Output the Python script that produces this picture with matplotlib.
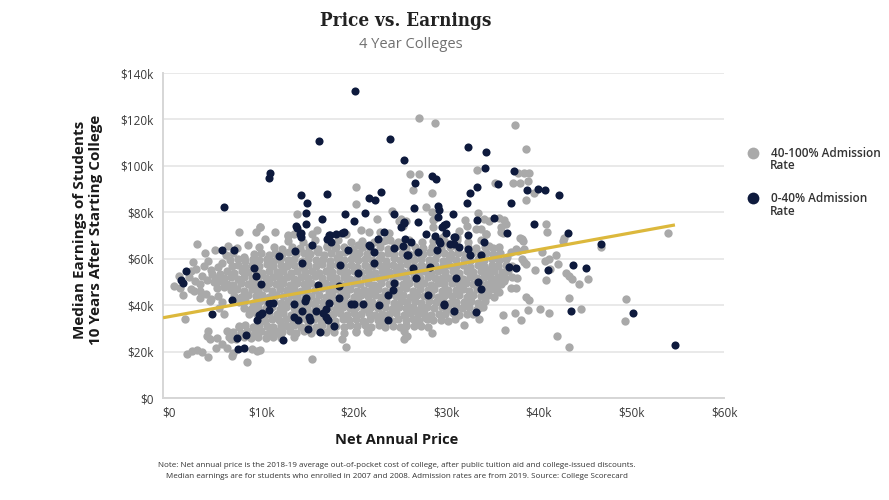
import matplotlib
matplotlib.use("Agg")
import matplotlib.pyplot as plt
from matplotlib.lines import Line2D
import numpy as np

# values in $k
# dense middle of the 40-100% admission cloud
gray_core = [
    (6.5,26.1),(7.3,25.6),(8.1,26.4),(8.9,25.8),(9.7,26.2),(10.5,25.7),(11.3,26.3),(12.2,25.9),(13.5,26.4),
    (7.0,28.6),(7.8,28.1),(8.5,28.9),(9.3,28.3),(10.0,28.7),(10.8,28.0),(11.6,28.9),(12.3,28.4),(13.1,28.8),
    (13.8,28.1),(14.6,28.7),(15.4,28.2),(16.2,28.9),(17.0,28.3),(17.9,28.6),(19.0,28.2),(20.3,28.8),(21.5,28.4),
    (7.6,31.0),(8.3,31.5),(9.1,30.8),(9.8,31.4),(10.6,31.2),(11.3,30.6),(12.1,31.5),(12.8,30.9),(13.6,31.3),
    (14.3,30.5),(15.1,31.4),(15.9,30.8),(16.6,31.6),(17.4,30.7),(18.1,31.2),(18.9,30.4),(19.6,31.5),(20.4,30.9),
    (21.2,31.3),(21.9,30.6),(22.7,31.4),(23.4,30.8),(24.2,31.1),(25.0,30.5),(25.7,31.6),(26.5,30.9),(27.3,31.2),
    (28.0,30.7),
    (9.7,33.8),(10.4,33.2),(11.2,34.1),(11.9,33.5),(12.7,33.9),(13.4,33.1),(14.2,34.0),(15.0,33.4),(15.7,34.2),
    (16.5,33.3),(17.2,33.8),(18.0,33.0),(18.8,34.1),(19.5,33.5),(20.3,33.9),(21.0,33.2),(21.8,34.0),(22.6,33.4),
    (23.3,33.8),(24.1,33.1),(24.8,34.2),(25.6,33.5),(26.4,33.9),(27.1,33.2),(27.9,34.0),(28.6,33.4),(29.4,33.8),
    (30.2,33.1),(30.9,33.9),
    (8.7,36.0),(9.4,36.6),(10.2,35.8),(10.9,36.4),(11.7,36.1),(12.4,36.8),(13.2,35.9),(14.0,36.5),(14.7,36.0),
    (15.5,36.7),(16.2,35.8),(17.0,36.4),(17.8,36.1),(18.5,36.8),(19.3,35.9),(20.0,36.5),(20.8,36.2),(21.6,36.7),
    (22.3,35.8),(23.1,36.3),(23.8,36.0),(24.6,36.6),(25.4,35.9),(26.1,36.5),(26.9,36.1),(27.6,36.8),(28.4,35.9),
    (29.2,36.4),(29.9,36.0),(30.7,36.6),(31.4,35.9),(32.2,36.3),(32.9,36.0),
    (8.2,38.9),(8.9,38.4),(9.7,39.2),(10.5,38.6),(11.2,39.0),(12.0,38.3),(12.7,39.3),(13.5,38.7),(14.3,39.1),
    (15.0,38.4),(15.8,39.2),(16.5,38.6),(17.3,39.0),(18.1,38.3),(18.8,39.3),(19.6,38.7),(20.3,39.1),(21.1,38.5),
    (21.9,39.2),(22.6,38.6),(23.4,39.0),(24.1,38.3),(24.9,39.3),(25.7,38.7),(26.4,39.1),(27.2,38.5),(27.9,39.2),
    (28.7,38.6),(29.5,39.0),(30.2,38.4),(31.0,39.2),(31.7,38.6),(32.5,39.0),(33.3,38.4),(34.0,39.1),
    (7.6,41.2),(8.3,41.8),(9.1,41.0),(9.9,41.6),(10.6,41.3),(11.4,42.0),(12.1,41.1),(12.9,41.7),(13.7,41.2),
    (14.4,41.9),(15.2,41.0),(15.9,41.6),(16.7,41.3),(17.5,42.0),(18.2,41.1),(19.0,41.7),(19.7,41.4),(20.5,41.9),
    (21.3,41.0),(22.0,41.5),(22.8,41.2),(23.5,41.8),(24.3,41.1),(25.1,41.7),(25.8,41.3),(26.6,42.0),(27.3,41.1),
    (28.1,41.6),(28.9,41.2),(29.6,41.8),(30.4,41.1),(31.1,41.5),(31.9,41.2),(32.7,41.8),(33.4,41.0),(34.2,41.6),
    (7.1,44.1),(7.8,43.6),(8.6,44.4),(9.4,43.8),(10.1,44.2),(10.9,43.5),(11.6,44.5),(12.4,43.9),(13.2,44.3),
    (13.9,43.6),(14.7,44.4),(15.4,43.8),(16.2,44.2),(17.0,43.5),(17.7,44.5),(18.5,43.9),(19.2,44.3),(20.0,43.7),
    (20.8,44.4),(21.5,43.8),(22.3,44.2),(23.0,43.5),(23.8,44.5),(24.6,43.9),(25.3,44.3),(26.1,43.7),(26.8,44.4),
    (27.6,43.8),(28.4,44.2),(29.1,43.6),(29.9,44.4),(30.6,43.8),(31.4,44.2),(32.2,43.6),(32.9,44.3),(33.7,43.9),
    (34.5,44.2),(35.2,43.7),
    (6.7,46.4),(7.4,47.0),(8.2,46.2),(9.0,46.8),(9.7,46.5),(10.5,47.2),(11.2,46.3),(12.0,46.9),(12.8,46.4),
    (13.5,47.1),(14.3,46.2),(15.0,46.8),(15.8,46.5),(16.6,47.2),(17.3,46.3),(18.1,46.9),(18.8,46.6),(19.6,47.1),
    (20.4,46.2),(21.1,46.7),(21.9,46.4),(22.6,47.0),(23.4,46.3),(24.2,46.9),(24.9,46.5),(25.7,47.2),(26.4,46.3),
    (27.2,46.8),(28.0,46.4),(28.7,47.0),(29.5,46.3),(30.2,46.7),(31.0,46.4),(31.8,47.0),(32.5,46.2),(33.3,46.8),
    (34.0,46.5),(34.8,47.1),(35.5,46.4),
    (6.3,49.3),(7.0,48.8),(7.8,49.6),(8.6,49.0),(9.3,49.4),(10.1,48.7),(10.8,49.7),(11.6,49.1),(12.4,49.5),
    (13.1,48.8),(13.9,49.6),(14.6,49.0),(15.4,49.4),(16.2,48.7),(16.9,49.7),(17.7,49.1),(18.4,49.5),(19.2,48.9),
    (20.0,49.6),(20.7,49.0),(21.5,49.4),(22.2,48.7),(23.0,49.7),(23.8,49.1),(24.5,49.5),(25.3,48.9),(26.0,49.6),
    (26.8,49.0),(27.6,49.4),(28.3,48.8),(29.1,49.6),(29.8,49.0),(30.6,49.4),(31.4,48.8),(32.1,49.5),(32.9,49.1),
    (33.6,49.4),(34.4,48.9),(35.2,49.5),(35.9,49.0),
    (6.0,51.6),(6.7,52.2),(7.5,51.4),(8.2,52.0),(9.0,51.7),(9.8,52.4),(10.5,51.5),(11.3,52.1),(12.0,51.6),
    (12.8,52.3),(13.6,51.4),(14.3,52.0),(15.1,51.7),(15.8,52.4),(16.6,51.5),(17.4,52.1),(18.1,51.8),(18.9,52.3),
    (19.6,51.4),(20.4,51.9),(21.2,51.6),(21.9,52.2),(22.7,51.5),(23.4,52.1),(24.2,51.7),(25.0,52.4),(25.7,51.5),
    (26.5,52.0),(27.2,51.6),(28.0,52.2),(28.8,51.5),(29.5,51.9),(30.3,51.6),(31.0,52.2),(31.8,51.4),(32.6,52.0),
    (33.3,51.7),(34.1,52.3),(34.8,51.6),(35.6,52.1),(36.3,51.5),
    (6.3,54.5),(7.1,54.0),(7.9,54.8),(8.6,54.2),(9.4,54.6),(10.1,53.9),(10.9,54.9),(11.7,54.3),(12.4,54.7),
    (13.2,54.0),(13.9,54.8),(14.7,54.2),(15.5,54.6),(16.2,53.9),(17.0,54.9),(17.7,54.3),(18.5,54.7),(19.3,54.1),
    (20.0,54.8),(20.8,54.2),(21.5,54.6),(22.3,53.9),(23.1,54.9),(23.8,54.3),(24.6,54.7),(25.3,54.1),(26.1,54.8),
    (26.9,54.2),(27.6,54.6),(28.4,54.0),(29.1,54.8),(29.9,54.2),(30.7,54.6),(31.4,54.0),(32.2,54.7),(32.9,54.3),
    (33.7,54.6),(34.5,54.1),(35.2,54.7),(36.0,54.2),(36.7,54.6),
    (6.8,56.8),(7.5,57.4),(8.3,56.6),(9.0,57.2),(9.8,56.9),(10.6,57.6),(11.3,56.7),(12.1,57.3),(12.8,56.8),
    (13.6,57.5),(14.4,56.6),(15.1,57.2),(15.9,56.9),(16.6,57.6),(17.4,56.7),(18.2,57.3),(18.9,57.0),(19.7,57.5),
    (20.4,56.6),(21.2,57.1),(22.0,56.8),(22.7,57.4),(23.5,56.7),(24.2,57.3),(25.0,56.9),(25.8,57.6),(26.5,56.7),
    (27.3,57.2),(28.0,56.8),(28.8,57.4),(29.6,56.7),(30.3,57.1),(31.1,56.8),(31.8,57.4),(32.6,56.6),(33.4,57.2),
    (34.1,56.9),(34.9,57.5),(35.6,56.8),(36.4,57.3),(37.1,56.8),
    (7.5,59.7),(8.3,59.2),(9.1,60.0),(9.8,59.4),(10.6,59.8),(11.3,59.1),(12.1,60.1),(12.9,59.5),(13.6,59.9),
    (14.4,59.2),(15.1,60.0),(15.9,59.4),(16.7,59.8),(17.4,59.1),(18.2,60.1),(18.9,59.5),(19.7,59.9),(20.5,59.3),
    (21.2,60.0),(22.0,59.4),(22.7,59.8),(23.5,59.1),(24.3,60.1),(25.0,59.5),(25.8,59.9),(26.5,59.3),(27.3,60.0),
    (28.1,59.4),(28.8,59.8),(29.6,59.2),(30.3,60.0),(31.1,59.4),(31.9,59.8),(32.6,59.2),(33.4,59.9),(34.1,59.5),
    (34.9,59.8),(35.7,59.3),(36.4,59.9),
    (9.2,62.0),(10.0,62.6),(10.8,61.8),(11.5,62.4),(12.3,62.1),(13.0,62.8),(13.8,61.9),(14.6,62.5),(15.3,62.0),
    (16.1,62.7),(16.8,61.8),(17.6,62.4),(18.4,62.1),(19.1,62.8),(19.9,61.9),(20.6,62.5),(21.4,62.2),(22.2,62.7),
    (22.9,61.8),(23.7,62.3),(24.4,62.0),(25.2,62.6),(26.0,61.9),(26.7,62.5),(27.5,62.1),(28.2,62.8),(29.0,61.9),
    (29.8,62.4),(30.5,62.0),(31.3,62.6),(32.0,61.9),(32.8,62.3),(33.6,62.0),(34.3,62.6),(35.1,61.9),(35.8,62.4),
    (11.4,64.9),(12.3,64.3),(13.3,65.2),(14.2,64.6),(15.2,65.0),(16.1,64.4),(17.1,65.3),(18.0,64.7),(19.0,65.1),
    (19.9,64.4),(20.9,65.2),(21.8,64.6),(22.8,65.0),(23.7,64.3),(24.7,65.3),(25.6,64.7),(26.6,65.1),(27.5,64.5),
    (28.5,65.2),(29.4,64.6),(30.4,65.0),(31.3,64.4),(32.3,65.2),(33.2,64.6),(34.2,65.0),(35.1,64.5),
    (14.5,67.2),(15.8,68.0),(17.2,67.4),(18.3,67.9),(19.7,67.1),(20.9,67.8),(22.2,67.3),(23.5,68.1),(24.8,67.4),
    (26.0,67.9),(27.4,67.2),(28.6,67.8),(29.9,67.3),(31.2,68.0),(32.4,67.4),(33.7,67.9),
]

# scattered 40-100% colleges around the cloud
gray_outer = [
    (27.0,120.7),(28.8,118.6),(37.4,117.7),(38.6,107.2),(26.1,96.7),(27.1,96.7),(33.3,98.1),(37.8,96.8),
    (38.4,96.8),(38.9,96.8),(37.2,92.8),(38.0,92.5),(38.8,93.3),(35.3,92.8),(20.2,90.7),(26.4,89.4),
    (28.5,88.5),(39.5,88.5),(38.6,85.3),(20.2,83.6),(27.8,82.3),(13.9,79.3),(24.1,80.6),(33.4,79.9),
    (22.5,77.0),(25.1,77.0),(25.6,76.4),(28.6,76.6),(28.6,73.5),(28.5,80.0),(28.7,77.1),(32.0,76.7),
    (32.2,74.3),(34.1,76.9),(34.6,76.4),(35.7,77.6),(36.2,76.7),(36.4,75.0),(35.9,73.5),(33.2,72.8),
    (34.3,70.6),(35.9,71.7),(36.1,71.1),(38.0,68.8),(40.8,75.0),(40.9,71.4),(42.7,68.8),(53.9,71.1),
    (7.6,71.7),(9.4,71.7),(9.9,73.5),(11.5,71.7),(12.9,70.1),(15.5,70.6),(16.0,72.5),(20.8,72.4),
    (21.7,71.7),(22.8,71.7),(23.8,71.2),(19.2,70.6),(10.4,68.5),(12.9,67.8),(13.5,70.6),(9.9,73.8),
    (24.9,76.4),(25.3,74.3),(23.2,67.8),(23.9,68.1),(24.5,66.1),(20.5,66.1),(21.0,65.2),(18.1,64.9),
    (16.0,63.5),(17.1,65.2),(12.4,62.7),(11.7,59.9),(10.6,59.9),(9.5,59.5),(8.1,60.3),
    (38.2,68.4),(37.8,63.4),(37.0,62.7),(35.7,64.9),(34.6,65.6),(34.3,70.6),(33.7,72.8),(31.4,72.1),
    (31.2,69.2),(30.3,66.3),(29.6,69.2),(40.7,59.2),(41.2,55.6),(38.6,57.7),(38.2,59.9),
    (46.7,65.2),(42.6,67.8),(38.4,58.4),(41.1,59.9),(40.8,50.9),(42.9,53.8),(43.3,52.4),(43.6,51.1),
    (44.3,49.2),(45.3,51.2),(43.3,42.9),(44.5,38.4),(49.4,42.7),(49.3,33.2),(41.1,36.6),(40.1,38.4),
    (38.8,37.7),(38.1,33.5),(37.4,36.7),(36.3,29.5),(36.1,35.7),(42.0,26.6),(43.3,21.9),(38.6,43.3),
    (38.9,42.2),(37.0,47.6),(37.5,47.3),(37.1,52.2),(37.6,51.7),(35.9,49.5),(35.5,46.2),(34.4,44.2),
    (34.3,47.2),(33.5,38.7),(33.5,34.0),(31.9,31.3),(28.5,28.2),(27.7,34.7),(26.7,37.6),(25.7,31.1),
    (25.4,28.9),(25.7,26.8),(25.4,25.3),(34.5,55.1),(35.0,50.5),(35.3,49.1),(35.7,45.5),(36.2,50.2),
    (36.6,60.6),(37.5,64.2),(38.4,64.2),(38.3,67.8),(40.3,63.0),(41.8,61.5),(39.6,55.0),(42.1,57.6),
    (3.1,66.3),(12.9,69.9),(8.2,60.9),(6.6,59.6),(2.7,46.2),(2.4,46.9),(3.4,46.2),(4.0,44.8),(1.8,34.2),
    (4.7,53.4),(5.6,53.4),(3.4,49.1),(4.9,49.8),(2.4,54.8),(2.2,52.0),(2.9,50.6),(3.6,52.4),(4.2,51.0),
    (5.0,51.8),(5.6,50.2),(3.0,55.6),(3.8,56.8),(4.6,55.2),(5.3,56.5),(5.8,58.2),(2.6,58.8),(4.3,58.9),
    (3.4,43.2),(4.6,42.6),(5.3,44.0),(5.8,41.4),(4.5,41.9),(5.5,38.6),(6.0,36.1),(5.2,47.4),(6.0,48.0),
    (1.2,47.2),(1.6,44.4),(3.9,62.4),(5.0,63.8),(6.4,65.4),(7.4,64.7),(8.6,65.8),(9.8,65.0),(6.2,61.7),
    (7.0,62.6),(0.6,48.4),(1.1,52.6),
    (2.0,19.1),(2.5,20.3),(3.1,20.6),(3.6,19.9),(4.3,17.7),(4.3,28.9),(4.2,26.8),(4.5,25.3),(5.2,26.0),
    (5.8,23.1),(5.1,21.7),(6.3,21.7),(7.0,19.6),(6.8,18.1),(8.5,15.7),(9.0,21.0),(9.5,20.3),(9.9,20.6),
    (15.5,17.0),(19.2,22.0),(18.7,25.6),(20.2,28.5),(21.4,28.9),(25.8,26.8),(6.7,25.3),(6.3,28.9),
    (7.6,30.4),(8.8,26.8),(10.6,27.5),(11.7,28.2),
]

# 0-40% admission colleges
navy_pts = [
    (20.1,132.3),(16.2,110.7),(23.9,111.4),(25.4,102.6),(11.0,97.0),(10.8,94.9),(6.0,82.2),
    (14.3,87.4),(17.1,87.9),(15.0,84.2),(21.7,86.1),(22.3,85.3),(22.9,88.9),(26.6,92.5),(28.5,95.7),
    (28.9,94.4),(26.5,82.0),(29.1,82.6),(29.2,81.2),(14.9,79.6),(16.6,77.0),(19.1,79.2),(21.2,79.9),
    (24.3,79.2),(20.0,76.3),(13.8,74.3),(13.9,73.1),(14.9,75.0),(14.3,71.2),(29.1,77.8),(26.9,75.9),
    (25.4,75.3),(25.1,73.5),(23.3,71.7),(27.8,70.8),(29.8,74.5),(29.5,73.5),(18.1,70.6),(18.7,71.1),
    (19.0,71.5),(17.4,70.2),(32.4,108.2),(34.3,105.8),(34.2,99.2),(37.3,97.6),(35.6,92.2),(33.3,90.8),
    (32.6,88.2),(32.2,84.2),(38.7,89.4),(39.9,90.2),(40.7,89.8),(42.2,87.5),(37.0,83.9),(30.7,79.2),
    (30.0,75.0),(33.3,76.7),(35.2,77.6),(32.3,70.2),(30.8,69.5),(39.5,75.1),(36.6,71.1),(43.2,71.1),
    (46.7,66.5),(36.8,56.3),(37.5,56.0),(41.0,55.3),(43.7,57.3),(45.1,55.8),(33.4,49.8),(33.7,46.9),
    (31.0,51.5),(28.0,44.5),(29.7,40.4),(30.8,37.6),(33.2,37.1),(43.5,37.6),(50.2,36.7),(54.7,22.9),
    (26.4,56.1),(28.2,56.4),(26.7,51.8),(25.8,61.4),(26.9,62.7),(25.5,68.5),(26.2,67.4),(29.2,67.8),
    (29.3,66.6),(30.4,66.3),(30.8,66.3),(31.4,64.9),(29.0,63.8),(32.4,64.2),(32.6,61.4),(33.7,61.4),
    (34.1,67.2),(30.0,70.9),(30.9,69.5),(28.8,70.0),(1.3,50.8),(1.6,49.5),(1.9,54.8),(5.8,63.6),
    (7.1,63.6),(4.7,36.3),(6.9,42.3),(9.2,56.0),(9.4,52.7),(10.0,49.3),(10.9,41.1),(11.3,41.1),
    (9.5,33.5),(10.0,36.1),(10.9,37.8),(7.4,25.8),(8.4,27.1),(7.5,21.2),(8.2,21.7),(12.4,25.0),
    (11.9,61.0),(13.7,63.3),(14.4,58.2),(15.5,65.8),(14.2,70.6),(16.1,48.7),(14.7,41.9),(14.8,43.0),
    (13.5,34.7),(14.0,33.7),(14.4,37.6),(15.2,34.7),(15.3,33.5),(15.9,37.6),(15.1,29.9),(16.4,28.5),
    (16.7,36.6),(17.0,34.7),(17.2,33.7),(17.0,38.3),(17.3,40.9),(18.4,42.9),(18.4,48.4),(17.9,31.1),
    (18.5,57.4),(19.4,63.7),(20.5,53.7),(19.7,40.7),(20.0,40.4),(21.0,40.3),(22.2,58.3),(21.6,65.9),
    (21.8,65.6),(22.6,68.5),(24.3,64.5),(25.3,65.3),(25.9,61.6),(24.4,49.7),(24.2,46.6),(23.7,44.5),
    (22.7,40.0),(23.7,33.5),(29.7,40.2),(10.1,36.6),(9.8,35.8),(13.5,40.4),(14.3,69.2),(17.3,70.2),
    (17.1,68.5),(17.6,67.1),(25.4,75.8),(22.2,62.9),
]

# fitted trend line
trend_intercept = 35.0
trend_slope = 0.723
trend_x = [-0.6, 54.7]

y_ticks = [0, 20, 40, 60, 80, 100, 120, 140]
x_ticks = [0, 10, 20, 30, 40, 50, 60]
legend_labels = ["40-100% Admission", "0-40% Admission"]

gray_c = "#a9a9a9"
navy_c = "#0e1a3d"
gold_c = "#dcb83c"
font = "Open Sans"

plt.rcParams["font.family"] = [font, "DejaVu Sans"]

fig = plt.figure(figsize=(8.89, 5), dpi=100)
ax = fig.add_axes([163/889, 1 - 398/500, 561/889, 325/500])

gx, gy = zip(*(gray_core + gray_outer))
nx, ny = zip(*navy_pts)
ax.scatter(gx, gy, s=36, color=gray_c, linewidths=0, zorder=2)
ax.scatter(nx, ny, s=34, color=navy_c, linewidths=0, zorder=3)
tx = np.array(trend_x)
ax.plot(tx, trend_intercept + trend_slope * tx, color=gold_c, lw=2.3, zorder=4,
        solid_capstyle="butt")

ax.set_xlim(-0.6, 60)
ax.set_ylim(0, 140)
ax.set_yticks(y_ticks)
ax.set_yticklabels(["$0" if v == 0 else f"${v}k" for v in y_ticks])
ax.set_xticks(x_ticks)
ax.set_xticklabels(["$0" if v == 0 else f"${v}k" for v in x_ticks])
ax.tick_params(length=0, labelsize=8.5, labelcolor="#3a3a3a")
ax.tick_params(axis="y", pad=7)
ax.tick_params(axis="x", pad=6)
ax.grid(axis="y", color="#e3e3e3", lw=1.1, zorder=0)
ax.set_axisbelow(True)
for side in ["top", "right"]:
    ax.spines[side].set_visible(False)
for side in ["left", "bottom"]:
    ax.spines[side].set_color("#d6d6d6")
    ax.spines[side].set_linewidth(1.4)

# titles and labels
fig.text(406/889, 1 - 21/500, "Price vs. Earnings", ha="center", va="center",
         family="DejaVu Serif", fontstretch="condensed", weight="heavy",
         fontsize=13.5, color="#222222")
fig.text(411/889, 1 - 45/500, "4 Year Colleges", ha="center", va="center",
         fontsize=10.5, color="#707070")
fig.text(88/889, 1 - 230/500, "Median Earnings of Students\n10 Years After Starting College",
         rotation=90, ha="center", va="center", multialignment="center",
         fontsize=11, weight="bold", color="#1a1a1a", linespacing=1.25)
fig.text(397/889, 1 - 440/500, "Net Annual Price", ha="center", va="center",
         fontsize=10.5, weight="bold", color="#1a1a1a")
fig.text(397/889, 1 - 471/500,
         "Note: Net annual price is the 2018-19 average out-of-pocket cost of college, after public tuition aid and college-issued discounts.\n"
         "Median earnings are for students who enrolled in 2007 and 2008. Admission rates are from 2019. Source: College Scorecard",
         ha="center", va="center", fontsize=5.8, color="#333333", linespacing=1.7)

handles = [
    Line2D([], [], ls="", marker="o", ms=8.5, color=gray_c, mec="none"),
    Line2D([], [], ls="", marker="o", ms=8.5, color=navy_c, mec="none"),
]
fig.legend(handles, legend_labels, loc="upper left",
           bbox_to_anchor=(741/889, 1 - 141/500), frameon=False,
           handletextpad=1.0, handlelength=1.0, labelspacing=2.75, borderpad=0,
           prop={"family": font, "size": 8.5, "weight": "semibold"}, labelcolor="#333333")
for y_px in [165, 212]:
    fig.text(770/889, 1 - y_px/500, "Rate", ha="left", va="center",
             fontsize=8.5, weight="semibold", color="#333333")

fig.savefig("out.png", dpi=100)
